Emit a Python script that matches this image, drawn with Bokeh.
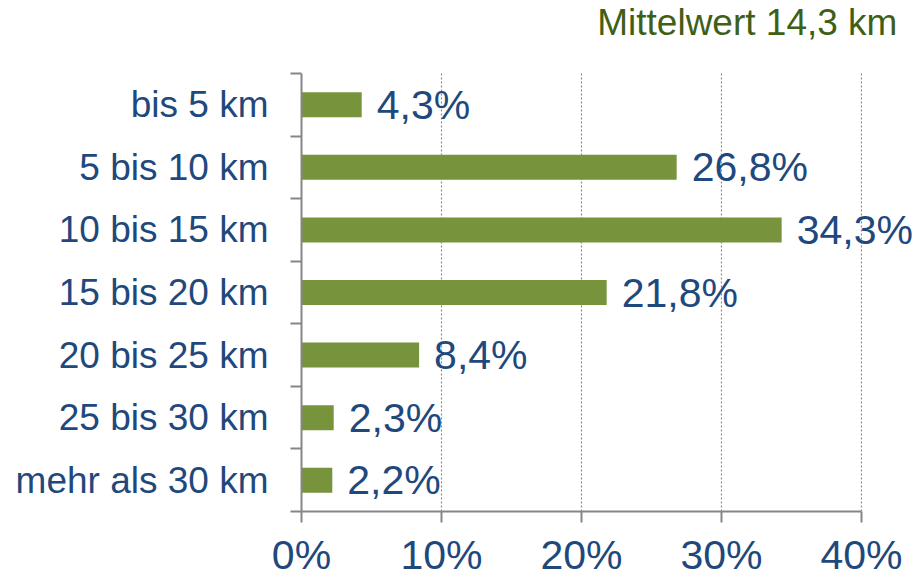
from bokeh.plotting import figure
from bokeh.models import ColumnDataSource, Range1d, FixedTicker, PrintfTickFormatter
from bokeh.core.properties import value
from bokeh.embed import file_html
from bokeh.resources import INLINE

categories = ["bis 5 km", "5 bis 10 km", "10 bis 15 km", "15 bis 20 km",
              "20 bis 25 km", "25 bis 30 km", "mehr als 30 km"]
shares = [4.3, 26.8, 34.3, 21.8, 8.4, 2.3, 2.2]
x_ticks = [0, 10, 20, 30, 40]
title_text = "Mittelwert 14,3 km"

BLUE = "#1F497D"
GREEN = "#77933C"
DARKGREEN = "#3F5F16"
GRAY = "#868686"
FONT = "Liberation Sans"

n = len(categories)
ypos = [n - i - 0.5 for i in range(n)]
labels = [f"{v:.1f}".replace(".", ",") + "%" for v in shares]
src = ColumnDataSource(dict(y=ypos, v=shares, lab=labels))
grid_src = ColumnDataSource(dict(x=x_ticks[1:], y0=[0] * (len(x_ticks) - 1), y1=[n] * (len(x_ticks) - 1)))

# the frame extends beyond the axes (right and top) so texts are not clipped;
# the axes themselves are bounded to the data extent
p = figure(width=921, height=580, output_backend="svg", toolbar_location=None,
           x_range=Range1d(0, 44.29), y_range=Range1d(0, n + 1.1667),
           min_border_left=301, min_border_right=0, min_border_top=0, min_border_bottom=60)
p.outline_line_color = None
p.background_fill_color = "white"
p.border_fill_color = "white"
p.xgrid.grid_line_color = None
p.ygrid.grid_line_color = None

# dotted vertical gridlines at the x ticks
p.segment(x0="x", x1="x", y0="y0", y1="y1", source=grid_src,
          line_color="#8C8C8C", line_dash="2 2", line_width=1.2)

p.hbar(y="y", right="v", left=0, height=0.4, source=src, color=GREEN, line_color=None)
p.text(x="v", y="y", text="lab", source=src, x_offset=15, text_baseline="middle",
       text_align="left", text_font_size="41px", text_color=BLUE, text_font=value(FONT))

# heading ("Mittelwert") at the top right
p.text(x=[x_ticks[-1]], y=[n], text=[title_text], x_offset=36, y_offset=-51,
       text_align="right", text_baseline="alphabetic", text_font_size="37px",
       text_color=DARKGREEN, text_font=value(FONT))

# x axis
xa = p.xaxis[0]
xa.bounds = (x_ticks[0], x_ticks[-1])
xa.ticker = FixedTicker(ticks=x_ticks)
xa.formatter = PrintfTickFormatter(format="%d%%")
xa.axis_line_color = GRAY
xa.axis_line_width = 2
xa.major_tick_line_color = GRAY
xa.major_tick_line_width = 2
xa.major_tick_out = 11
xa.major_tick_in = 0
xa.minor_tick_line_color = None
xa.major_label_text_font = FONT
xa.major_label_text_font_size = "41px"
xa.major_label_text_color = BLUE
xa.major_label_standoff = 9

# y axis
ya = p.yaxis[0]
ya.bounds = (0, n)
ya.ticker = FixedTicker(ticks=ypos, minor_ticks=list(range(n + 1)))
ya.major_label_overrides = {y: c for y, c in zip(ypos, categories)}
ya.axis_line_color = GRAY
ya.axis_line_width = 2
ya.major_tick_line_color = None
ya.major_tick_out = 0
ya.major_tick_in = 0
ya.minor_tick_line_color = GRAY
ya.minor_tick_line_width = 2
ya.minor_tick_out = 11
ya.minor_tick_in = 0
ya.major_label_text_font = FONT
ya.major_label_text_font_size = "37px"
ya.major_label_text_color = BLUE
ya.major_label_standoff = 22

open("out.html", "w").write(file_html(p, INLINE))
